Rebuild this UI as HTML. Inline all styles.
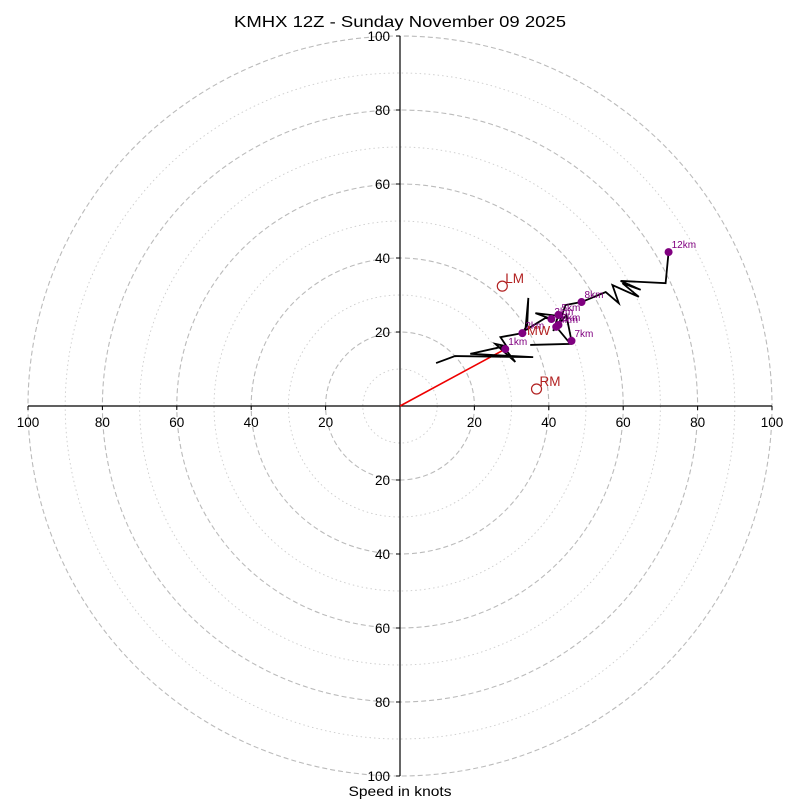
<!DOCTYPE html>
<html><head><meta charset="utf-8"><style>
body{margin:0;background:#fff}
svg{display:block;font-family:"Liberation Sans",sans-serif}
</style></head><body>
<svg id="c" width="800" height="800" xmlns="http://www.w3.org/2000/svg">
<text x="400" y="27" text-anchor="middle" font-size="16" textLength="332" lengthAdjust="spacingAndGlyphs">KMHX 12Z - Sunday November 09 2025</text>
<text x="400" y="796" text-anchor="middle" font-size="14" textLength="103" lengthAdjust="spacingAndGlyphs">Speed in knots</text>
<g id="grid"></g><g id="axes"></g><g id="plot"></g>
</svg>
<script>
const uWind=[9.7,14.8,35.8,18.9,28.3,25.6,31.0,28.3,28.8,27.0,32.9,34.2,34.5,33.7,39.1,40.7,36.4,43.1,42.6,41.2,42.0,45.8,35.0,45.3,46.1,44.7,42.6,44.5,48.8,55.3,58.8,57.1,64.2,59.8,64.7,59.3,71.4,72.2];
const vWind=[11.6,13.5,13.2,14.1,16.2,16.8,11.9,15.4,15.9,18.6,19.7,21.9,29.2,20.5,23.8,23.5,25.1,24.3,24.6,20.3,21.4,16.8,16.5,16.8,17.6,24.6,21.9,27.3,28.1,30.8,27.8,32.7,29.5,33.2,31.4,33.8,33.2,41.6];
const kmLabels=["1km","2km","3km","4km","5km","6km","7km","8km","12km"];
const kmU=[28.3,32.9,40.7,42.0,42.6,42.6,46.1,48.8,72.2];
const kmV=[15.4,19.7,23.5,21.4,24.6,21.9,17.6,28.1,41.6];
const motionLabels=["LM","RM"];
const motionU=[27.5,36.7];
const motionV=[32.4,4.6];
const ringValues=[10,20,30,40,50,60,70,80,90,100];
const tickValues=[20,40,60,80,100];
const cx=400,cy=406,sx=3.72,sy=3.70;
const X=u=>cx+u*sx, Y=v=>cy-v*sy;
const NS="http://www.w3.org/2000/svg";
function mk(t,a,p){const e=document.createElementNS(NS,t);for(const k in a)e.setAttribute(k,a[k]);p.appendChild(e);return e;}
const grid=document.getElementById('grid'),axes=document.getElementById('axes'),plot=document.getElementById('plot');
ringValues.forEach(r=>{const major=r%20===0;
const e=mk('ellipse',{cx:cx,cy:cy,rx:r*sx,ry:r*sy,fill:'none',stroke:major?'#bbb':'#ccc','stroke-width':major?1.1:0.9,'stroke-dasharray':major?'5,3':'1.5,3'},grid);

});
const ax1=mk('line',{x1:X(-100),y1:cy,x2:X(100),y2:cy,stroke:'#000','stroke-width':1.2},axes);


const ax2=mk('line',{x1:cx,y1:Y(100),x2:cx,y2:Y(-100),stroke:'#000','stroke-width':1.2},axes);


tickValues.forEach(t=>{[-1,1].forEach(s=>{
mk('line',{x1:X(s*t),y1:cy,x2:X(s*t),y2:cy+4,stroke:'#000'},axes);
const tx=mk('text',{x:X(s*t),y:cy+21,'text-anchor':'middle','font-size':13.5},axes);tx.textContent=t;


mk('line',{x1:cx-4,y1:Y(s*t),x2:cx,y2:Y(s*t),stroke:'#000'},axes);
const ty=mk('text',{x:cx-10,y:Y(s*t)+5,'text-anchor':'end','font-size':13.5},axes);ty.textContent=t;

});});
const sh=mk('line',{x1:X(0),y1:Y(0),x2:X(kmU[0]),y2:Y(kmV[0]),stroke:'#e00','stroke-width':1.6},plot);


const pl=mk('polyline',{points:uWind.map((u,i)=>X(u)+','+Y(vWind[i])).join(' '),fill:'none',stroke:'#000','stroke-width':1.8,'stroke-linejoin':'miter'},plot);


kmLabels.forEach((l,i)=>{
const c=mk('circle',{cx:X(kmU[i]),cy:Y(kmV[i]),r:4,fill:'#800080'},plot);


const t=mk('text',{x:X(kmU[i])+3,y:Y(kmV[i])-4,'font-size':10,fill:'#800080'},plot);t.textContent=l;

});
const mwT=mk('text',{x:527,y:335,'font-size':13,fill:'#b22222'},plot);mwT.textContent='MW';


motionLabels.forEach((l,i)=>{
const c=mk('circle',{cx:X(motionU[i]),cy:Y(motionV[i]),r:5,fill:'none',stroke:'#b22222','stroke-width':1.2},plot);


const t=mk('text',{x:X(motionU[i])+3,y:Y(motionV[i])-3,'font-size':13.5,fill:'#b22222'},plot);t.textContent=l;

});
</script>
</body></html>
